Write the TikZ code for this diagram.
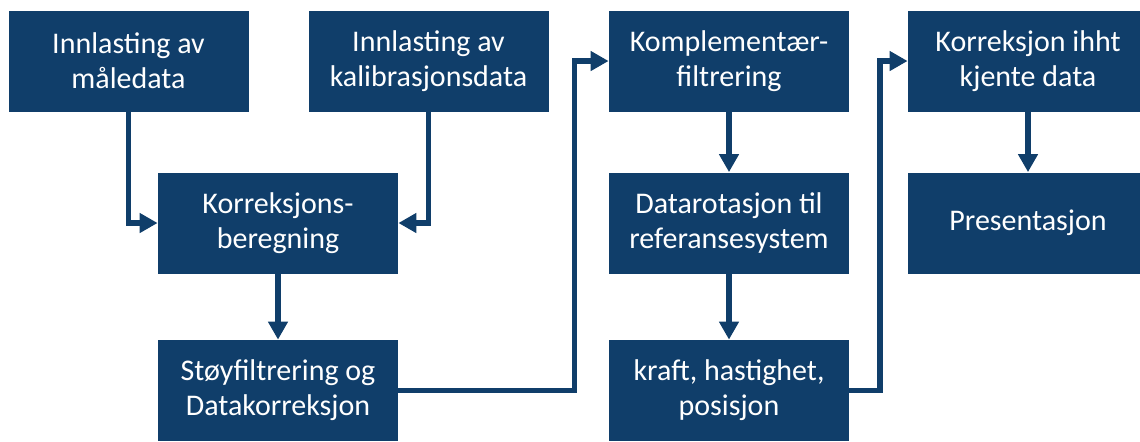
\documentclass[tikz,border=0pt]{standalone}
\usepackage{fontspec}
\setmainfont{Carlito}
\usepackage{tikz}
\usetikzlibrary{arrows.meta,positioning}

\definecolor{boxblue}{RGB}{16,62,106}

\begin{document}
\begin{tikzpicture}[x=0.5pt,y=-0.5pt,
	box/.style={fill=boxblue, text=white, align=center, minimum width=120pt, minimum height=50.5pt, inner sep=0pt, font=\fontsize{15pt}{17.5pt}\selectfont},
	flow/.style={boxblue, line width=2.6pt, -{Triangle[length=9pt,width=9.5pt]}}]

	\useasboundingbox (0,0) rectangle (1140,441);

	\node [box] (maale) at (128.5,61) {Innlasting av\\måledata};

	\node [box] (kalib) at (428.5,61) {Innlasting av\\kalibrasjonsdata};

	\node [box] (korr) at (278,223) {Korreksjons-\\beregning};

	\node [box] (stoy) at (278,390.5) {Støyfiltrering og\\Datakorreksjon};

	\node [box] (kompl) at (729,61) {Komplementær-\\filtrering};

	\node [box] (rot) at (729,223) {Datarotasjon til\\referansesystem};

	\node [box] (kraft) at (729,390.5) {kraft, hastighet,\\posisjon};

	\node [box] (kjent) at (1028,61) {Korreksjon ihht\\kjente data};

	\node [box] (pres) at (1028,223) {Presentasjon};

	\coordinate (knekk1) at (574.5,390.5);

	\coordinate (knekk2) at (880,390.5);

	\draw [flow] (maale.south) |- (korr.west);

	\draw [flow] (kalib.south) |- (korr.east);

	\draw [flow] (korr) -- (stoy);

	\draw [flow] (stoy.east) -- (knekk1) |- (kompl.west);

	\draw [flow] (kompl) -- (rot);

	\draw [flow] (rot) -- (kraft);

	\draw [flow] (kraft.east) -- (knekk2) |- (kjent.west);

	\draw [flow] (kjent) -- (pres);
\end{tikzpicture}
\end{document}
